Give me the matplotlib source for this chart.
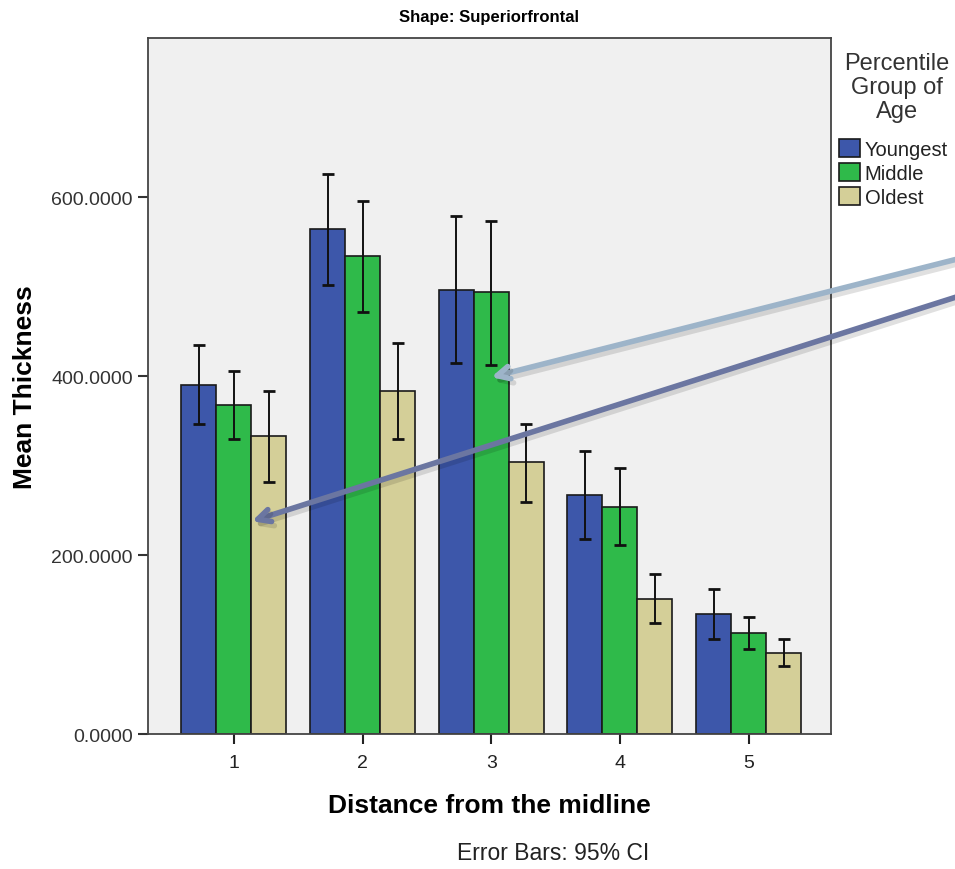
import numpy as np
import matplotlib
matplotlib.use("Agg")
import matplotlib.pyplot as plt
import matplotlib.patheffects as pe

plt.rcParams['font.family'] = ['Liberation Sans', 'DejaVu Sans']

# data
distances = [1, 2, 3, 4, 5]
groups = ["Youngest", "Middle", "Oldest"]
youngest_mean = [390.7, 564.6, 496.5, 267.0, 134.2]
youngest_lo = [346.7, 502.0, 414.5, 218.0, 106.0]
youngest_hi = [435.4, 626.0, 578.8, 316.0, 162.0]
middle_mean = [367.9, 534.0, 493.9, 254.4, 112.6]
middle_lo = [330.4, 471.5, 413.0, 211.0, 95.2]
middle_hi = [405.6, 596.3, 574.0, 297.0, 131.2]
oldest_mean = [333.7, 384.0, 304.0, 151.6, 90.6]
oldest_lo = [281.6, 329.6, 259.0, 124.7, 75.9]
oldest_hi = [383.2, 437.2, 347.0, 178.6, 106.0]

colors = ["#3d57aa", "#2fba4a", "#d4cf98"]

fig = plt.figure(figsize=(9.55, 8.7), dpi=100)
ax = fig.add_axes([0.155, 0.155, 0.715, 0.800])
ax.set_facecolor("#f0f0f0")

x = np.arange(len(distances)) + 1
width = 0.272
series = [
    (youngest_mean, youngest_lo, youngest_hi),
    (middle_mean, middle_lo, middle_hi),
    (oldest_mean, oldest_lo, oldest_hi),
]
for i, (mean, lo, hi) in enumerate(series):
    mean = np.array(mean)
    err = [mean - np.array(lo), np.array(hi) - mean]
    pos = x + (i - 1) * width
    ax.bar(pos, mean, width, color=colors[i], edgecolor="#1a1a1a",
           linewidth=1.2, label=groups[i], zorder=2)
    ax.errorbar(pos, mean, yerr=err, fmt="none", ecolor="#111111",
                elinewidth=1.4, capsize=4, capthick=2, zorder=3)

ax.set_xlim(0.333, 5.64)
ax.set_ylim(0, 778)
ax.set_xticks(x)
ax.set_xticklabels([str(d) for d in distances], fontsize=14)
ax.set_yticks([0, 200, 400, 600])
ax.set_yticklabels(["0.0000", "200.0000", "400.0000", "600.0000"], fontsize=14,
                   color="#333333")
ax.tick_params(axis="both", direction="out", length=7, width=1.5, color="#333333", pad=4)
ax.tick_params(axis="x", colors="#222222", pad=7)
for s in ax.spines.values():
    s.set_color("#444444")
    s.set_linewidth(1.3)

ax.set_title("Shape: Superiorfrontal", fontsize=12, fontweight="bold", pad=12)
ax.set_xlabel("Distance from the midline", fontsize=19, fontweight="bold", labelpad=16)
ax.set_ylabel("Mean Thickness", fontsize=19, fontweight="bold", labelpad=10)
fig.text(0.579, 0.006, "Error Bars: 95% CI", fontsize=16.5, ha="center", va="bottom",
         color="#222222")

# legend title drawn separately so the gap to the entries matches
fig.text(0.939, 1 - 53 / 870, "Percentile\nGroup of\nAge", fontsize=17,
         ha="center", va="top", multialignment="center", linespacing=1.12,
         color="#333333")
leg = fig.legend(loc="upper left", bbox_to_anchor=(0.879, 1 - 140 / 870), frameon=False,
                 fontsize=14.5, handlelength=1.0, handleheight=1.0, handletextpad=0.25,
                 labelspacing=0.2, borderaxespad=0, borderpad=0)
for t in leg.get_texts():
    t.set_color("#222222")

# annotation arrows coming in from the right edge
shadow = [pe.SimpleLineShadow(offset=(2, -3), alpha=0.12), pe.Normal()]
ax.annotate("", xy=(3.0, 399), xycoords="data",
            xytext=(1.02, 0.706), textcoords="figure fraction",
            arrowprops=dict(arrowstyle="->,head_length=0.9,head_width=0.45",
                            color="#9db4c9", lw=4, shrinkA=0, shrinkB=0,
                            path_effects=shadow),
            zorder=5, annotation_clip=False)
ax.annotate("", xy=(1.14, 238), xycoords="data",
            xytext=(1.02, 0.664), textcoords="figure fraction",
            arrowprops=dict(arrowstyle="->,head_length=0.9,head_width=0.45",
                            color="#6b76a1", lw=4, shrinkA=0, shrinkB=0,
                            path_effects=shadow),
            zorder=5, annotation_clip=False)

fig.savefig("out.png", dpi=100)
